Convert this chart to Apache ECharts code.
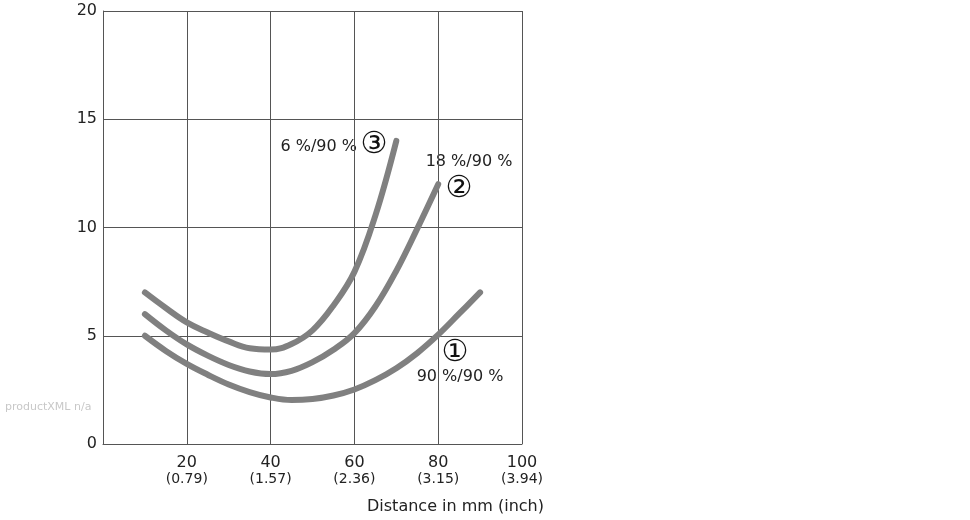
<!DOCTYPE html>
<html>
<head>
<meta charset="utf-8">
<script src="https://cdn.jsdelivr.net/npm/echarts@6/dist/echarts.min.js"></script>
<style>html,body{margin:0;padding:0;background:#fff}#c{width:970px;height:520px}</style>
</head>
<body>
<div id="c"></div>
<script>
// Data
const xTicks = [20, 40, 60, 80, 100];
const xTickInch = ['(0.79)', '(1.57)', '(2.36)', '(3.15)', '(3.94)'];
const yTicks = [0, 5, 10, 15, 20];

const curve1X = [10, 15, 20, 25, 30, 35, 40, 45, 50, 55, 60, 65, 70, 75, 80, 85, 90];
const curve1Y = [5.0, 4.3, 3.7, 3.2, 2.75, 2.4, 2.15, 2.03, 2.08, 2.24, 2.52, 2.95, 3.5, 4.2, 5.05, 6.02, 7.0];

const curve2X = [10, 15, 20, 25, 30, 35, 40, 45, 50, 55, 60, 65, 70, 75, 80];
const curve2Y = [6.0, 5.25, 4.6, 4.08, 3.65, 3.35, 3.23, 3.38, 3.78, 4.35, 5.12, 6.35, 8.0, 9.95, 12.0];

const curve3X = [10, 15, 20, 25, 30, 35, 40, 45, 50, 55, 60, 65, 70];
const curve3Y = [7.0, 6.28, 5.62, 5.15, 4.74, 4.42, 4.36, 4.62, 5.25, 6.4, 7.95, 10.55, 14.0];

const labelFont = 'DejaVu Sans';
const gridColor = '#555';
const lineColor = '#808080';

function pairs(xs, ys) { return xs.map((x, i) => [x, ys[i]]); }

const chart = echarts.init(document.getElementById('c'), null, {renderer: 'canvas'});

function lineSeries(name, xs, ys) {
  return {
    name: name,
    type: 'line',
    data: pairs(xs, ys),
    smooth: 0.4,
    symbol: 'none',
    silent: true,
    lineStyle: {color: lineColor, width: 6, cap: 'round', join: 'round'},
    z: 3
  };
}

const option = {
  animation: false,
  backgroundColor: '#fff',
  grid: {left: 103, right: 448, top: 11, bottom: 76, containLabel: false},
  xAxis: {
    type: 'value',
    min: 0, max: 100, interval: 20,
    axisLine: {show: true, lineStyle: {color: gridColor, width: 1}},
    axisTick: {show: false},
    splitLine: {show: true, lineStyle: {color: gridColor, width: 1}},
    axisLabel: {
      margin: 10,
      formatter: function (v) {
        const i = xTicks.indexOf(v);
        if (i < 0) return '';
        return '{a|' + v + '}\n{b|' + xTickInch[i] + '}';
      },
      rich: {
        a: {fontFamily: labelFont, fontSize: 16, color: '#222', lineHeight: 17},
        b: {fontFamily: labelFont, fontSize: 14, color: '#222', lineHeight: 16}
      }
    }
  },
  yAxis: {
    type: 'value',
    min: 0, max: 20, interval: 5,
    axisLine: {show: true, lineStyle: {color: gridColor, width: 1}},
    axisTick: {show: false},
    splitLine: {show: true, lineStyle: {color: gridColor, width: 1}},
    axisLabel: {
      margin: 6,
      fontFamily: labelFont, fontSize: 16, color: '#222',
      formatter: function (v) { return yTicks.indexOf(v) >= 0 ? String(v) : ''; }
    }
  },
  series: [
    lineSeries('90 %/90 %', curve1X, curve1Y),
    lineSeries('18 %/90 %', curve2X, curve2Y),
    lineSeries('6 %/90 %', curve3X, curve3Y)
  ],
  graphic: [
    {type: 'text', left: 5, top: 402, silent: true,
     style: {text: 'productXML n/a', fontFamily: labelFont, fontSize: 11, fill: '#c8c8c8'}},
    {type: 'text', x: 544, y: 507, silent: true,
     style: {text: 'Distance in mm (inch)', fontFamily: labelFont, fontSize: 16, fill: '#222', align: 'right', verticalAlign: 'middle'}},
    {type: 'text', x: 357, y: 147, silent: true,
     style: {text: '6 %/90 %', fontFamily: labelFont, fontSize: 16, fill: '#222', align: 'right', verticalAlign: 'middle'}},
    {type: 'text', x: 374, y: 145, silent: true,
     style: {text: '③', fontFamily: labelFont, fontSize: 30, fill: '#111', align: 'center', verticalAlign: 'middle'}},
    {type: 'text', x: 469, y: 162, silent: true,
     style: {text: '18 %/90 %', fontFamily: labelFont, fontSize: 16, fill: '#222', align: 'center', verticalAlign: 'middle'}},
    {type: 'text', x: 459, y: 189, silent: true,
     style: {text: '②', fontFamily: labelFont, fontSize: 30, fill: '#111', align: 'center', verticalAlign: 'middle'}},
    {type: 'text', x: 455, y: 353, silent: true,
     style: {text: '①', fontFamily: labelFont, fontSize: 30, fill: '#111', align: 'center', verticalAlign: 'middle'}},
    {type: 'text', x: 460, y: 377, silent: true,
     style: {text: '90 %/90 %', fontFamily: labelFont, fontSize: 16, fill: '#222', align: 'center', verticalAlign: 'middle'}}
  ]
};
chart.setOption(option);
</script>
</body>
</html>
